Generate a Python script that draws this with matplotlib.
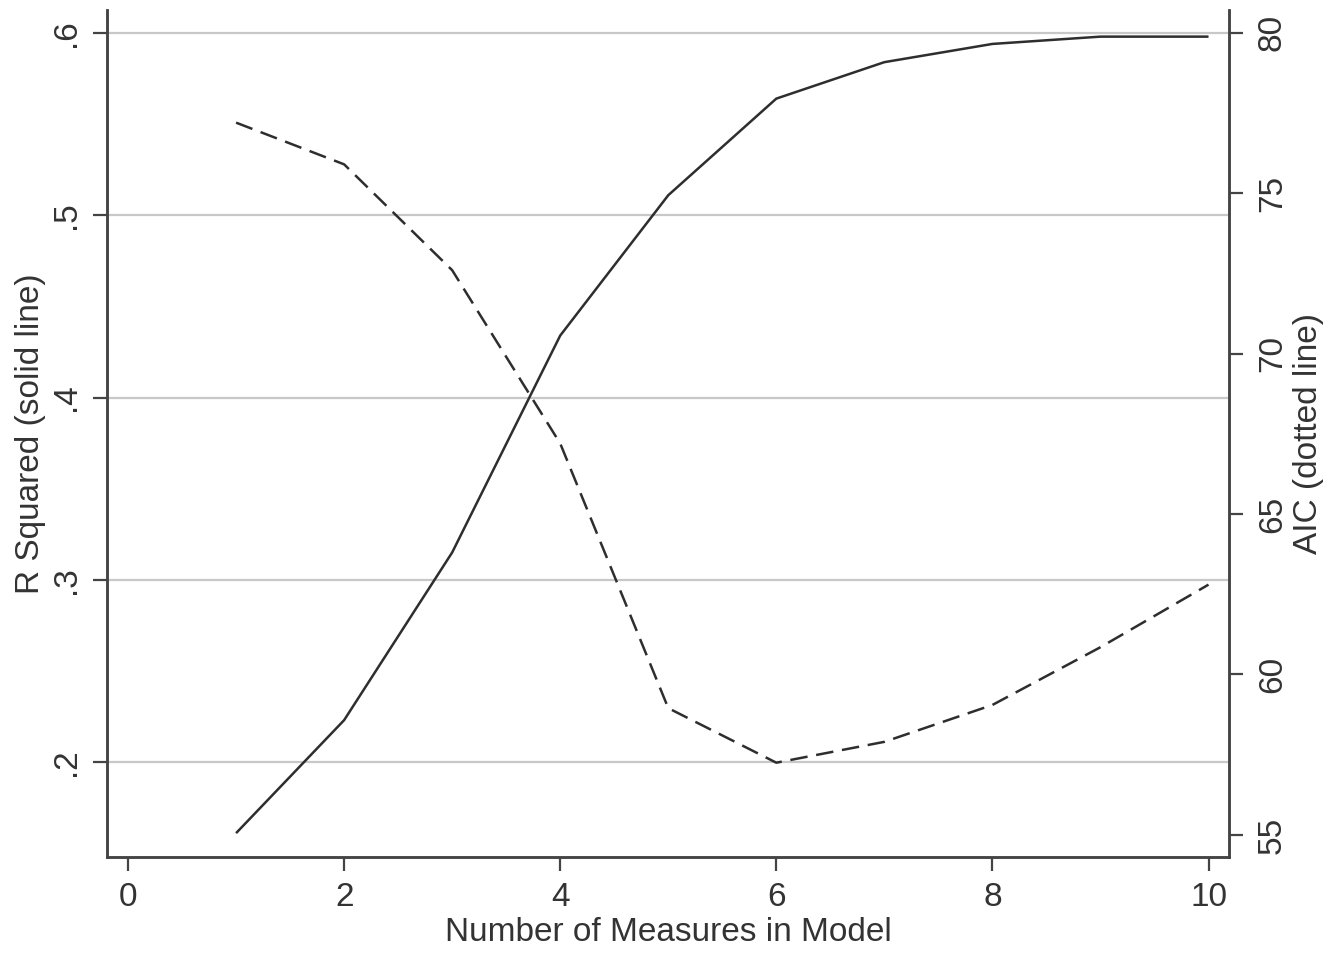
import matplotlib
matplotlib.use('Agg')
import matplotlib.pyplot as plt

# values
n_measures = [1, 2, 3, 4, 5, 6, 7, 8, 9, 10]
r_squared = [0.161, 0.223, 0.315, 0.434, 0.511, 0.564, 0.584, 0.594, 0.598, 0.598]
aic = [77.2, 75.9, 72.6, 67.2, 58.95, 57.25, 57.9, 59.05, 60.85, 62.8]

x_ticks = [0, 2, 4, 6, 8, 10]
r2_ticks = [0.2, 0.3, 0.4, 0.5, 0.6]
r2_labels = ['.2', '.3', '.4', '.5', '.6']
aic_ticks = [55, 60, 65, 70, 75, 80]

plt.rcParams['font.family'] = ['Liberation Sans', 'DejaVu Sans']
text_col = '#333333'
line_col = '#2e2e2e'
spine_col = '#444444'

fig = plt.figure(figsize=(13.4, 9.55), dpi=100)
ax = fig.add_axes([0.0799, 0.1026, 0.8373, 0.8869])
ax2 = ax.twinx()

ax.plot(n_measures, r_squared, color=line_col, lw=1.8, solid_capstyle='butt')
ax2.plot(n_measures, aic, color=line_col, lw=1.8, linestyle=(0, (7, 3.5)))

ax.set_xlim(-0.194, 10.19)
ax.set_ylim(0.1479, 0.6126)
ax2.set_ylim(54.31, 80.71)

ax.set_xticks(x_ticks)
ax.set_yticks(r2_ticks)
ax.set_yticklabels(r2_labels)
ax2.set_yticks(aic_ticks)

ax.yaxis.grid(True, color='#c8c8c8', lw=1.6)
ax.set_axisbelow(True)

for a in (ax, ax2):
    a.spines['top'].set_visible(False)
    for s in ('left', 'right', 'bottom'):
        a.spines[s].set_color(spine_col)
        a.spines[s].set_linewidth(1.8)
    a.tick_params(colors=spine_col, labelcolor=text_col, labelsize=24,
                  length=10, width=1.6)

ax.tick_params(axis='x', pad=8)
ax.tick_params(axis='y', labelrotation=90, pad=8)
ax2.tick_params(axis='y', labelrotation=90, pad=10)
for lab in ax.get_yticklabels() + ax2.get_yticklabels():
    lab.set_va('center')

ax.set_xlabel('Number of Measures in Model', fontsize=24, color=text_col, labelpad=3)
ax.set_ylabel('R Squared (solid line)', fontsize=24, color=text_col, labelpad=4)
ax2.set_ylabel('AIC (dotted line)', fontsize=24, color=text_col, labelpad=4)

fig.savefig('out.png', dpi=100, facecolor='white')
